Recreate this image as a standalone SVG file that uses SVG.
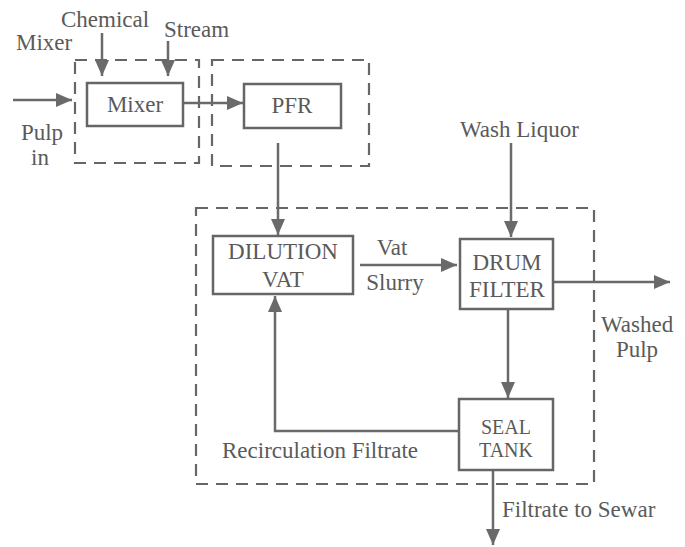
<svg xmlns="http://www.w3.org/2000/svg" width="685" height="547" viewBox="0 0 685 547">
<style>
.t{font-family:'Liberation Serif','DejaVu Serif',serif;font-size:23px;fill:#5a5a5a}
.s{font-size:20px}
.m{text-anchor:middle}
.box{fill:none;stroke:#666;stroke-width:2.5}
.dash{fill:none;stroke:#666;stroke-width:2.2;stroke-dasharray:12 8}
.ln{fill:none;stroke:#6a6a6a;stroke-width:2.5}
</style>
<defs>
<marker id="ah" markerUnits="userSpaceOnUse" markerWidth="16" markerHeight="14" refX="16" refY="7" orient="auto">
<path d="M0,0 L16,7 L0,14 z" fill="#6a6a6a"/>
</marker>
</defs>
<rect width="685" height="547" fill="#fff"/>
<g id="boundaries">
<rect class="dash" x="75" y="60" width="124" height="103"/>
<rect class="dash" x="212" y="60" width="157" height="106"/>
<rect class="dash" x="196" y="208" width="398" height="276"/>
</g>
<g id="connectors">
<line class="ln" x1="13" y1="100" x2="72" y2="100" marker-end="url(#ah)"/>
<line class="ln" x1="102" y1="33" x2="102" y2="76" marker-end="url(#ah)"/>
<line class="ln" x1="168" y1="41" x2="168" y2="76" marker-end="url(#ah)"/>
<line class="ln" x1="183" y1="103" x2="243" y2="103" marker-end="url(#ah)"/>
<line class="ln" x1="278" y1="143" x2="278" y2="235" marker-end="url(#ah)"/>
<line class="ln" x1="360" y1="265" x2="457" y2="265" marker-end="url(#ah)"/>
<line class="ln" x1="511" y1="143" x2="511" y2="237" marker-end="url(#ah)"/>
<line class="ln" x1="553" y1="282" x2="670" y2="282" marker-end="url(#ah)"/>
<line class="ln" x1="508" y1="309" x2="508" y2="398" marker-end="url(#ah)"/>
<polyline class="ln" points="459,431 275,431 275,296" marker-end="url(#ah)"/>
<line class="ln" x1="493" y1="470" x2="493" y2="545" marker-end="url(#ah)"/>
</g>
<g id="labels">
<text class="t" x="16" y="50">Mixer</text>
<text class="t" x="61" y="27">Chemical</text>
<text class="t" x="164" y="37">Stream</text>
<text class="t m" x="42" y="140">Pulp</text>
<text class="t m" x="40" y="165">in</text>
<text class="t m" x="392" y="255">Vat</text>
<text class="t m" x="395" y="290">Slurry</text>
<text class="t" x="460" y="137">Wash Liquor</text>
<text class="t" x="601" y="332">Washed</text>
<text class="t m" x="637" y="357">Pulp</text>
<text class="t" x="222" y="458">Recirculation Filtrate</text>
<text class="t" x="502" y="517">Filtrate to Sewar</text>
</g>
<g id="mixer">
<rect class="box" x="87" y="83" width="96" height="43"/>
<text class="t m" x="135" y="112">Mixer</text>
</g>
<g id="pfr">
<rect class="box" x="244" y="84" width="97" height="44"/>
<text class="t m" x="292" y="113">PFR</text>
</g>
<g id="dilution-vat">
<rect class="box" x="213" y="236" width="140" height="58"/>
<text class="t m" x="283" y="259">DILUTION</text>
<text class="t m" x="283" y="287">VAT</text>
</g>
<g id="drum-filter">
<rect class="box" x="460" y="239" width="93" height="70"/>
<text class="t m" x="507" y="270">DRUM</text>
<text class="t m" x="507" y="297">FILTER</text>
</g>
<g id="seal-tank">
<rect class="box" x="459" y="399" width="94" height="71"/>
<text class="t s m" x="506" y="434">SEAL</text>
<text class="t s m" x="506" y="457">TANK</text>
</g>
</svg>
